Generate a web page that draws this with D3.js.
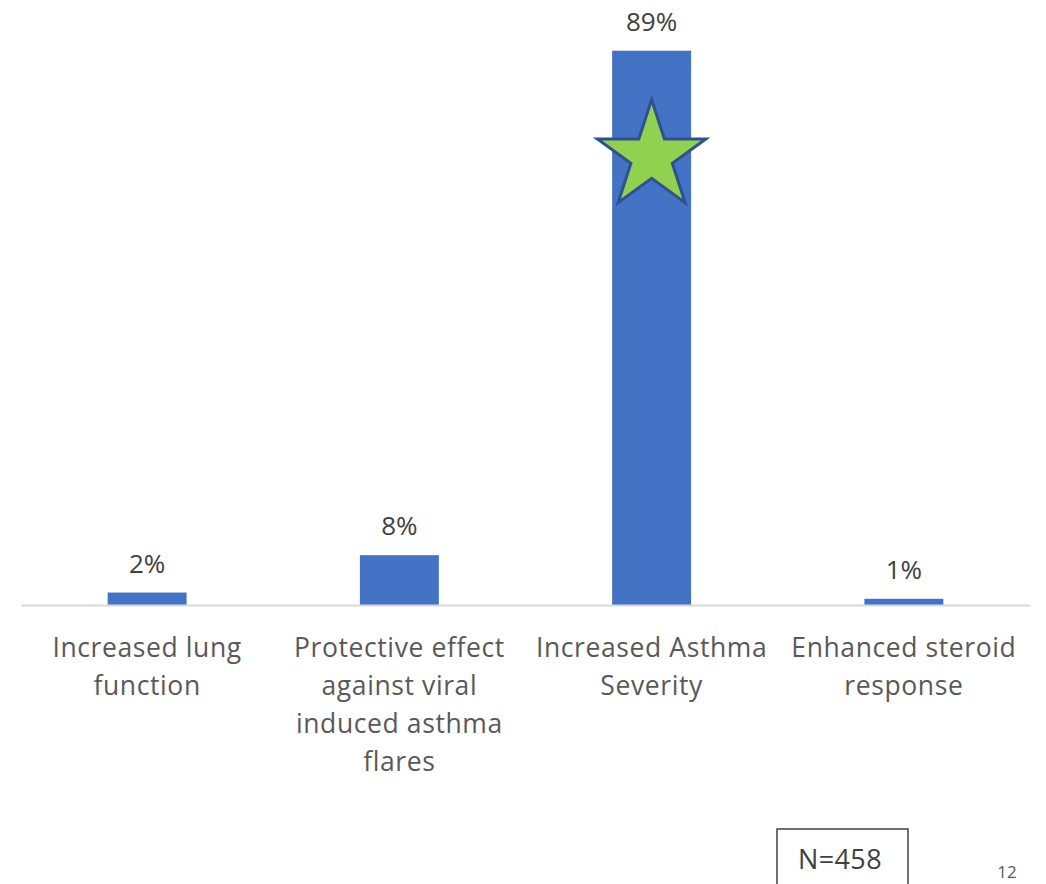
<!DOCTYPE html>
<html>
<head>
<meta charset="utf-8">
<script src="https://cdn.jsdelivr.net/npm/d3@7"></script>
<style>
  html, body { margin: 0; padding: 0; background: #fff; }
  svg { display: block; }
  text { font-family: "Open Sans", "Noto Sans", sans-serif; }
</style>
</head>
<body>
<svg id="chart" width="1046" height="884"></svg>
<script>
const categories = [
  ["Increased lung", "function"],
  ["Protective effect", "against viral", "induced asthma", "flares"],
  ["Increased Asthma", "Severity"],
  ["Enhanced steroid", "response"]
];
const categoryKeys = ["lung", "protective", "severity", "steroid"];
const values = [2, 8, 89, 1];
const valueLabels = ["2%", "8%", "89%", "1%"];
const starCategory = "severity";
const starValue = 72;
const sampleLabel = "N=458";
const pageNumber = "12";

const svg = d3.select("#chart");
const baseY = 605;
const topY = 50.7;

const x = d3.scaleBand()
  .domain(categoryKeys)
  .range([21, 1030])
  .paddingInner(0.687)
  .paddingOuter(0.3435);

const y = d3.scaleLinear()
  .domain([0, 89])
  .range([baseY, topY]);

// bars
svg.append("g").selectAll("rect")
  .data(values)
  .join("rect")
  .attr("x", (d, i) => x(categoryKeys[i]))
  .attr("y", d => y(d))
  .attr("width", x.bandwidth())
  .attr("height", d => y(0) - y(d))
  .attr("fill", "#4472C4");

// baseline axis
const xAxis = d3.axisBottom(x).tickSize(0).tickFormat("");
const axisG = svg.append("g").attr("transform", `translate(0,${y(0)})`).call(xAxis);
axisG.select(".domain").attr("stroke", "#D9D9D9").attr("stroke-width", 2);

// value labels
svg.append("g").selectAll("text")
  .data(values)
  .join("text")
  .attr("x", (d, i) => x(categoryKeys[i]) + x.bandwidth() / 2)
  .attr("y", d => y(d) - 20)
  .attr("text-anchor", "middle")
  .attr("font-size", 26)
  .attr("fill", "#404040")
  .text((d, i) => valueLabels[i]);

// category labels
const catG = svg.append("g");
categories.forEach((lines, i) => {
  const t = catG.append("text")
    .attr("text-anchor", "middle")
    .attr("font-size", 26.5)
    .attr("letter-spacing", 0.6)
    .attr("fill", "#595959");
  lines.forEach((ln, j) => {
    t.append("tspan")
      .attr("x", x(categoryKeys[i]) + x.bandwidth() / 2)
      .attr("y", y(0) + 52 + j * 38)
      .text(ln);
  });
});

// star annotation
const R = 57, r = R * 0.382;
const starPts = d3.range(10).map(k => {
  const ang = -Math.PI / 2 + k * Math.PI / 5;
  const rad = k % 2 === 0 ? R : r;
  return [rad * Math.cos(ang), rad * Math.sin(ang)];
});
svg.append("path")
  .attr("d", d3.line()(starPts) + "Z")
  .attr("transform", `translate(${x(starCategory) + x.bandwidth() / 2},${y(starValue)})`)
  .attr("fill", "#92D050")
  .attr("stroke", "#2F528F")
  .attr("stroke-width", 3)
  .attr("stroke-linejoin", "miter");

// N box
svg.append("rect")
  .attr("x", 777).attr("y", 829)
  .attr("width", 131).attr("height", 70)
  .attr("fill", "none")
  .attr("stroke", "#404040")
  .attr("stroke-width", 1.5);
svg.append("text")
  .attr("x", 840).attr("y", 869)
  .attr("text-anchor", "middle")
  .attr("font-size", 27)
  .attr("letter-spacing", 0.4)
  .attr("fill", "#404040")
  .text(sampleLabel);

svg.append("text")
  .attr("x", 1007).attr("y", 878)
  .attr("text-anchor", "middle")
  .attr("font-size", 17)
  .attr("fill", "#595959")
  .text(pageNumber);
</script>
</body>
</html>
